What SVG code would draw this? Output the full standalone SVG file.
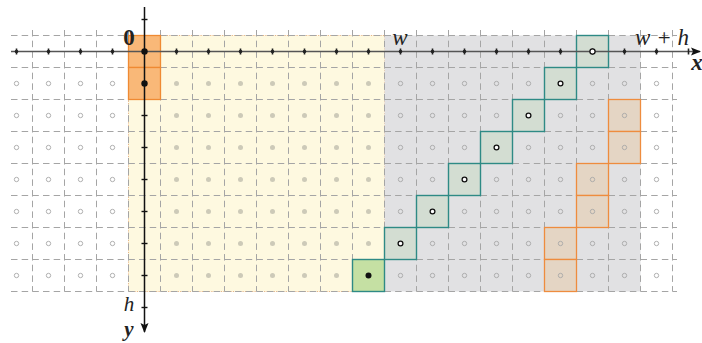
<svg xmlns="http://www.w3.org/2000/svg" width="702" height="343" viewBox="0 0 702 343">
<defs>
<style>
.grid line{stroke:#a5a5a5;stroke-width:1;stroke-dasharray:6.5 4.17}
.hd{fill:none;stroke:#a8a8a8;stroke-width:0.9}
.fd{fill:#cdcab8;stroke:none}
.wd{fill:#fff;stroke:#111;stroke-width:1.3}
.bd{fill:#111}
.teal{fill:#d3ddd2;stroke:#2e8a85;stroke-width:1.4}
.brown{fill:#e4d5c4;stroke:#ee8c3e;stroke-width:1.3}
.org{fill:#f9b878;stroke:#ef8a33;stroke-width:1.3}
.lbl{font-family:'Liberation Serif','DejaVu Serif',serif;font-size:23px;fill:#222}
.sm{font-size:21px}
</style>
<marker id="ah" viewBox="0 0 10 10" refX="9" refY="5" markerWidth="10" markerHeight="10" markerUnits="userSpaceOnUse" orient="auto">
<path d="M0,1 L10,5 L0,9 L2,5 Z" fill="#111"/>
</marker>
</defs>

<g id="regions">
<rect id="yellow" x="128.5" y="35.5" width="256" height="256" fill="#fef9e0" stroke="#e8b07a" stroke-width="0.9" stroke-dasharray="1.2 1.2"/>
<rect id="gray" x="384.5" y="35.5" width="256" height="256" fill="#e1e1e3"/>
</g>

<g class="grid" id="grid">
<line x1="11" y1="35.5" x2="677" y2="35.5"/>
<line x1="11" y1="67.5" x2="677" y2="67.5"/>
<line x1="11" y1="99.5" x2="677" y2="99.5"/>
<line x1="11" y1="131.5" x2="677" y2="131.5"/>
<line x1="11" y1="163.5" x2="677" y2="163.5"/>
<line x1="11" y1="195.5" x2="677" y2="195.5"/>
<line x1="11" y1="227.5" x2="677" y2="227.5"/>
<line x1="11" y1="259.5" x2="677" y2="259.5"/>
<line x1="11" y1="291.5" x2="677" y2="291.5"/>
<line x1="32.5" y1="30" x2="32.5" y2="291.5"/>
<line x1="64.5" y1="30" x2="64.5" y2="291.5"/>
<line x1="96.5" y1="30" x2="96.5" y2="291.5"/>
<line x1="128.5" y1="30" x2="128.5" y2="291.5"/>
<line x1="160.5" y1="30" x2="160.5" y2="291.5"/>
<line x1="192.5" y1="30" x2="192.5" y2="291.5"/>
<line x1="224.5" y1="30" x2="224.5" y2="291.5"/>
<line x1="256.5" y1="30" x2="256.5" y2="291.5"/>
<line x1="288.5" y1="30" x2="288.5" y2="291.5"/>
<line x1="320.5" y1="30" x2="320.5" y2="291.5"/>
<line x1="352.5" y1="30" x2="352.5" y2="291.5"/>
<line x1="384.5" y1="30" x2="384.5" y2="291.5"/>
<line x1="416.5" y1="30" x2="416.5" y2="291.5"/>
<line x1="448.5" y1="30" x2="448.5" y2="291.5"/>
<line x1="480.5" y1="30" x2="480.5" y2="291.5"/>
<line x1="512.5" y1="30" x2="512.5" y2="291.5"/>
<line x1="544.5" y1="30" x2="544.5" y2="291.5"/>
<line x1="576.5" y1="30" x2="576.5" y2="291.5"/>
<line x1="608.5" y1="30" x2="608.5" y2="291.5"/>
<line x1="640.5" y1="30" x2="640.5" y2="291.5"/>
<line x1="672.5" y1="30" x2="672.5" y2="291.5"/>
</g>

<g id="cells">
<g id="origin-cells">
<rect class="org" x="128.5" y="35.5" width="32" height="32"/>
<rect class="org" x="128.5" y="67.5" width="32" height="32"/>
</g>
<g id="brown-cells">
<rect class="brown" x="608.5" y="99.5" width="32" height="32"/>
<rect class="brown" x="608.5" y="131.5" width="32" height="32"/>
<rect class="brown" x="576.5" y="163.5" width="32" height="32"/>
<rect class="brown" x="576.5" y="195.5" width="32" height="32"/>
<rect class="brown" x="544.5" y="227.5" width="32" height="32"/>
<rect class="brown" x="544.5" y="259.5" width="32" height="32"/>
</g>
<g id="teal-cells">
<rect class="teal" x="352.5" y="259.5" width="32" height="32" style="fill:#c5e0a3"/>
<rect class="teal" x="384.5" y="227.5" width="32" height="32"/>
<rect class="teal" x="416.5" y="195.5" width="32" height="32"/>
<rect class="teal" x="448.5" y="163.5" width="32" height="32"/>
<rect class="teal" x="480.5" y="131.5" width="32" height="32"/>
<rect class="teal" x="512.5" y="99.5" width="32" height="32"/>
<rect class="teal" x="544.5" y="67.5" width="32" height="32"/>
<rect class="teal" x="576.5" y="35.5" width="32" height="32"/>
</g>
</g>

<g id="dots">
<g id="dots-left">
<circle class="hd" cx="16.5" cy="83.5" r="2.2"/><circle class="hd" cx="48.5" cy="83.5" r="2.2"/><circle class="hd" cx="80.5" cy="83.5" r="2.2"/><circle class="hd" cx="112.5" cy="83.5" r="2.2"/>
<circle class="hd" cx="16.5" cy="115.5" r="2.2"/><circle class="hd" cx="48.5" cy="115.5" r="2.2"/><circle class="hd" cx="80.5" cy="115.5" r="2.2"/><circle class="hd" cx="112.5" cy="115.5" r="2.2"/>
<circle class="hd" cx="16.5" cy="147.5" r="2.2"/><circle class="hd" cx="48.5" cy="147.5" r="2.2"/><circle class="hd" cx="80.5" cy="147.5" r="2.2"/><circle class="hd" cx="112.5" cy="147.5" r="2.2"/>
<circle class="hd" cx="16.5" cy="179.5" r="2.2"/><circle class="hd" cx="48.5" cy="179.5" r="2.2"/><circle class="hd" cx="80.5" cy="179.5" r="2.2"/><circle class="hd" cx="112.5" cy="179.5" r="2.2"/>
<circle class="hd" cx="16.5" cy="211.5" r="2.2"/><circle class="hd" cx="48.5" cy="211.5" r="2.2"/><circle class="hd" cx="80.5" cy="211.5" r="2.2"/><circle class="hd" cx="112.5" cy="211.5" r="2.2"/>
<circle class="hd" cx="16.5" cy="243.5" r="2.2"/><circle class="hd" cx="48.5" cy="243.5" r="2.2"/><circle class="hd" cx="80.5" cy="243.5" r="2.2"/><circle class="hd" cx="112.5" cy="243.5" r="2.2"/>
<circle class="hd" cx="16.5" cy="275.5" r="2.2"/><circle class="hd" cx="48.5" cy="275.5" r="2.2"/><circle class="hd" cx="80.5" cy="275.5" r="2.2"/><circle class="hd" cx="112.5" cy="275.5" r="2.2"/>
</g>
<g id="dots-yellow">
<circle class="fd" cx="176.5" cy="83.5" r="2.5"/><circle class="fd" cx="208.5" cy="83.5" r="2.5"/><circle class="fd" cx="240.5" cy="83.5" r="2.5"/><circle class="fd" cx="272.5" cy="83.5" r="2.5"/><circle class="fd" cx="304.5" cy="83.5" r="2.5"/><circle class="fd" cx="336.5" cy="83.5" r="2.5"/><circle class="fd" cx="368.5" cy="83.5" r="2.5"/>
<circle class="fd" cx="176.5" cy="115.5" r="2.5"/><circle class="fd" cx="208.5" cy="115.5" r="2.5"/><circle class="fd" cx="240.5" cy="115.5" r="2.5"/><circle class="fd" cx="272.5" cy="115.5" r="2.5"/><circle class="fd" cx="304.5" cy="115.5" r="2.5"/><circle class="fd" cx="336.5" cy="115.5" r="2.5"/><circle class="fd" cx="368.5" cy="115.5" r="2.5"/>
<circle class="fd" cx="176.5" cy="147.5" r="2.5"/><circle class="fd" cx="208.5" cy="147.5" r="2.5"/><circle class="fd" cx="240.5" cy="147.5" r="2.5"/><circle class="fd" cx="272.5" cy="147.5" r="2.5"/><circle class="fd" cx="304.5" cy="147.5" r="2.5"/><circle class="fd" cx="336.5" cy="147.5" r="2.5"/><circle class="fd" cx="368.5" cy="147.5" r="2.5"/>
<circle class="fd" cx="176.5" cy="179.5" r="2.5"/><circle class="fd" cx="208.5" cy="179.5" r="2.5"/><circle class="fd" cx="240.5" cy="179.5" r="2.5"/><circle class="fd" cx="272.5" cy="179.5" r="2.5"/><circle class="fd" cx="304.5" cy="179.5" r="2.5"/><circle class="fd" cx="336.5" cy="179.5" r="2.5"/><circle class="fd" cx="368.5" cy="179.5" r="2.5"/>
<circle class="fd" cx="176.5" cy="211.5" r="2.5"/><circle class="fd" cx="208.5" cy="211.5" r="2.5"/><circle class="fd" cx="240.5" cy="211.5" r="2.5"/><circle class="fd" cx="272.5" cy="211.5" r="2.5"/><circle class="fd" cx="304.5" cy="211.5" r="2.5"/><circle class="fd" cx="336.5" cy="211.5" r="2.5"/><circle class="fd" cx="368.5" cy="211.5" r="2.5"/>
<circle class="fd" cx="176.5" cy="243.5" r="2.5"/><circle class="fd" cx="208.5" cy="243.5" r="2.5"/><circle class="fd" cx="240.5" cy="243.5" r="2.5"/><circle class="fd" cx="272.5" cy="243.5" r="2.5"/><circle class="fd" cx="304.5" cy="243.5" r="2.5"/><circle class="fd" cx="336.5" cy="243.5" r="2.5"/><circle class="fd" cx="368.5" cy="243.5" r="2.5"/>
<circle class="fd" cx="176.5" cy="275.5" r="2.5"/><circle class="fd" cx="208.5" cy="275.5" r="2.5"/><circle class="fd" cx="240.5" cy="275.5" r="2.5"/><circle class="fd" cx="272.5" cy="275.5" r="2.5"/><circle class="fd" cx="304.5" cy="275.5" r="2.5"/><circle class="fd" cx="336.5" cy="275.5" r="2.5"/>
<circle class="bd" cx="368.5" cy="275.5" r="3"/>
</g>
<g id="dots-right">
<circle class="hd" cx="400.5" cy="83.5" r="2.2"/><circle class="hd" cx="432.5" cy="83.5" r="2.2"/><circle class="hd" cx="464.5" cy="83.5" r="2.2"/><circle class="hd" cx="496.5" cy="83.5" r="2.2"/><circle class="hd" cx="528.5" cy="83.5" r="2.2"/><circle class="wd" cx="560.5" cy="83.5" r="2.4"/><circle class="hd" cx="592.5" cy="83.5" r="2.2"/><circle class="hd" cx="624.5" cy="83.5" r="2.2"/><circle class="hd" cx="656.5" cy="83.5" r="2.2"/>
<circle class="hd" cx="400.5" cy="115.5" r="2.2"/><circle class="hd" cx="432.5" cy="115.5" r="2.2"/><circle class="hd" cx="464.5" cy="115.5" r="2.2"/><circle class="hd" cx="496.5" cy="115.5" r="2.2"/><circle class="wd" cx="528.5" cy="115.5" r="2.4"/><circle class="hd" cx="560.5" cy="115.5" r="2.2"/><circle class="hd" cx="592.5" cy="115.5" r="2.2"/><circle class="hd" cx="624.5" cy="115.5" r="2.2"/><circle class="hd" cx="656.5" cy="115.5" r="2.2"/>
<circle class="hd" cx="400.5" cy="147.5" r="2.2"/><circle class="hd" cx="432.5" cy="147.5" r="2.2"/><circle class="hd" cx="464.5" cy="147.5" r="2.2"/><circle class="wd" cx="496.5" cy="147.5" r="2.4"/><circle class="hd" cx="528.5" cy="147.5" r="2.2"/><circle class="hd" cx="560.5" cy="147.5" r="2.2"/><circle class="hd" cx="592.5" cy="147.5" r="2.2"/><circle class="hd" cx="624.5" cy="147.5" r="2.2"/><circle class="hd" cx="656.5" cy="147.5" r="2.2"/>
<circle class="hd" cx="400.5" cy="179.5" r="2.2"/><circle class="hd" cx="432.5" cy="179.5" r="2.2"/><circle class="wd" cx="464.5" cy="179.5" r="2.4"/><circle class="hd" cx="496.5" cy="179.5" r="2.2"/><circle class="hd" cx="528.5" cy="179.5" r="2.2"/><circle class="hd" cx="560.5" cy="179.5" r="2.2"/><circle class="hd" cx="592.5" cy="179.5" r="2.2"/><circle class="hd" cx="624.5" cy="179.5" r="2.2"/><circle class="hd" cx="656.5" cy="179.5" r="2.2"/>
<circle class="hd" cx="400.5" cy="211.5" r="2.2"/><circle class="wd" cx="432.5" cy="211.5" r="2.4"/><circle class="hd" cx="464.5" cy="211.5" r="2.2"/><circle class="hd" cx="496.5" cy="211.5" r="2.2"/><circle class="hd" cx="528.5" cy="211.5" r="2.2"/><circle class="hd" cx="560.5" cy="211.5" r="2.2"/><circle class="hd" cx="592.5" cy="211.5" r="2.2"/><circle class="hd" cx="624.5" cy="211.5" r="2.2"/><circle class="hd" cx="656.5" cy="211.5" r="2.2"/>
<circle class="wd" cx="400.5" cy="243.5" r="2.4"/><circle class="hd" cx="432.5" cy="243.5" r="2.2"/><circle class="hd" cx="464.5" cy="243.5" r="2.2"/><circle class="hd" cx="496.5" cy="243.5" r="2.2"/><circle class="hd" cx="528.5" cy="243.5" r="2.2"/><circle class="hd" cx="560.5" cy="243.5" r="2.2"/><circle class="hd" cx="592.5" cy="243.5" r="2.2"/><circle class="hd" cx="624.5" cy="243.5" r="2.2"/><circle class="hd" cx="656.5" cy="243.5" r="2.2"/>
<circle class="hd" cx="400.5" cy="275.5" r="2.2"/><circle class="hd" cx="432.5" cy="275.5" r="2.2"/><circle class="hd" cx="464.5" cy="275.5" r="2.2"/><circle class="hd" cx="496.5" cy="275.5" r="2.2"/><circle class="hd" cx="528.5" cy="275.5" r="2.2"/><circle class="hd" cx="560.5" cy="275.5" r="2.2"/><circle class="hd" cx="592.5" cy="275.5" r="2.2"/><circle class="hd" cx="624.5" cy="275.5" r="2.2"/><circle class="hd" cx="656.5" cy="275.5" r="2.2"/>
</g>
</g>

<g id="x-axis">
<line x1="11" y1="51.5" x2="700" y2="51.5" stroke="#555" stroke-width="1.5" marker-end="url(#ah)"/>
<g stroke="#222" stroke-width="1.6">
<line x1="16.5" y1="48.5" x2="16.5" y2="54.5"/><line x1="48.5" y1="48.5" x2="48.5" y2="54.5"/><line x1="80.5" y1="48.5" x2="80.5" y2="54.5"/><line x1="112.5" y1="48.5" x2="112.5" y2="54.5"/>
<line x1="176.5" y1="48.5" x2="176.5" y2="54.5"/><line x1="208.5" y1="48.5" x2="208.5" y2="54.5"/><line x1="240.5" y1="48.5" x2="240.5" y2="54.5"/><line x1="272.5" y1="48.5" x2="272.5" y2="54.5"/><line x1="304.5" y1="48.5" x2="304.5" y2="54.5"/><line x1="336.5" y1="48.5" x2="336.5" y2="54.5"/><line x1="368.5" y1="48.5" x2="368.5" y2="54.5"/>
<line x1="400.5" y1="48.5" x2="400.5" y2="54.5"/><line x1="432.5" y1="48.5" x2="432.5" y2="54.5"/><line x1="464.5" y1="48.5" x2="464.5" y2="54.5"/><line x1="496.5" y1="48.5" x2="496.5" y2="54.5"/><line x1="528.5" y1="48.5" x2="528.5" y2="54.5"/><line x1="560.5" y1="48.5" x2="560.5" y2="54.5"/><line x1="592.5" y1="48.5" x2="592.5" y2="54.5"/><line x1="624.5" y1="48.5" x2="624.5" y2="54.5"/><line x1="656.5" y1="48.5" x2="656.5" y2="54.5"/><line x1="688.5" y1="48.5" x2="688.5" y2="54.5"/>
</g>
<g fill="#222">
<circle cx="16.5" cy="51.5" r="1.8"/><circle cx="48.5" cy="51.5" r="1.8"/><circle cx="80.5" cy="51.5" r="1.8"/><circle cx="112.5" cy="51.5" r="1.8"/>
<circle cx="176.5" cy="51.5" r="1.8"/><circle cx="208.5" cy="51.5" r="1.8"/><circle cx="240.5" cy="51.5" r="1.8"/><circle cx="272.5" cy="51.5" r="1.8"/><circle cx="304.5" cy="51.5" r="1.8"/><circle cx="336.5" cy="51.5" r="1.8"/><circle cx="368.5" cy="51.5" r="1.8"/>
<circle cx="400.5" cy="51.5" r="1.8"/><circle cx="432.5" cy="51.5" r="1.8"/><circle cx="464.5" cy="51.5" r="1.8"/><circle cx="496.5" cy="51.5" r="1.8"/><circle cx="528.5" cy="51.5" r="1.8"/><circle cx="560.5" cy="51.5" r="1.8"/><circle cx="624.5" cy="51.5" r="1.8"/><circle cx="656.5" cy="51.5" r="1.8"/>
</g>
<circle class="wd" cx="592.5" cy="51.5" r="2.6"/>
</g>

<g id="y-axis">
<line x1="144.5" y1="7" x2="144.5" y2="332" stroke="#111" stroke-width="1.5" marker-end="url(#ah)"/>
<g stroke="#111" stroke-width="1.4">
<line x1="141.5" y1="19.5" x2="147.5" y2="19.5"/>
<line x1="141.5" y1="115.5" x2="147.5" y2="115.5"/><line x1="141.5" y1="147.5" x2="147.5" y2="147.5"/><line x1="141.5" y1="179.5" x2="147.5" y2="179.5"/><line x1="141.5" y1="211.5" x2="147.5" y2="211.5"/><line x1="141.5" y1="243.5" x2="147.5" y2="243.5"/><line x1="141.5" y1="275.5" x2="147.5" y2="275.5"/><line x1="141.5" y1="307.5" x2="147.5" y2="307.5"/>
</g>
<circle class="bd" cx="144.5" cy="51.5" r="3.2"/>
<circle class="bd" cx="144.5" cy="83.5" r="3.2"/>
</g>

<g id="labels">
<text class="lbl" x="129" y="45" text-anchor="middle" font-weight="bold">0</text>
<text class="lbl" x="400" y="45" text-anchor="middle" font-style="italic">w</text>
<text class="lbl" x="662" y="45" text-anchor="middle" font-style="italic">w + h</text>
<text class="lbl" x="697" y="70" text-anchor="middle" font-style="italic" font-weight="bold">x</text>
<text class="lbl sm" x="129" y="311" text-anchor="middle" font-style="italic">h</text>
<text class="lbl sm" x="129" y="336" text-anchor="middle" font-style="italic" font-weight="bold">y</text>
</g>
</svg>
